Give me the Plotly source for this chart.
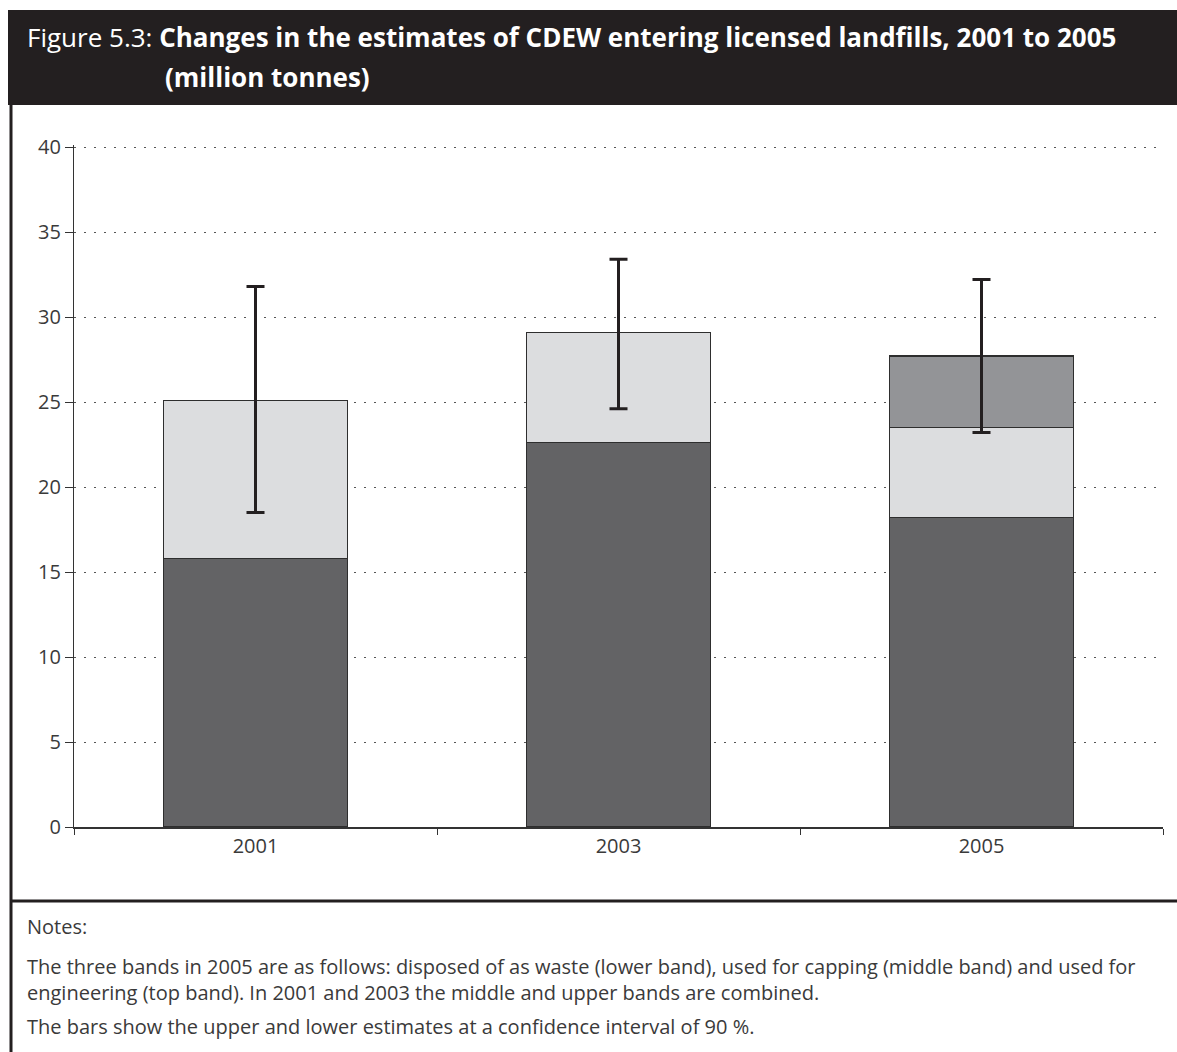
import plotly.graph_objects as go

W, H = 1177, 1052

years = ["2001", "2003", "2005"]
lower_band = [15.8, 22.6, 18.2]     # disposed of as waste
middle_band = [9.3, 6.5, 5.3]       # capping (combined with engineering in 2001/2003)
upper_band = [None, None, 4.2]      # used for engineering
upper_estimate = [31.8, 33.4, 32.2]
lower_estimate = [18.5, 24.6, 23.2]
y_ticks = [0, 5, 10, 15, 20, 25, 30, 35, 40]

totals = [a + b + (c or 0) for a, b, c in zip(lower_band, middle_band, upper_band)]
err_plus = [u - t for u, t in zip(upper_estimate, totals)]
err_minus = [t - l for t, l in zip(totals, lower_estimate)]

FONT = "Open Sans"
DARK = "#231f20"
TXT = "#3a3a3a"

def px(x):
    return x / W

def py(y):
    return 1 - y / H

fig = go.Figure()
fig.add_trace(go.Bar(x=years, y=lower_band, marker=dict(color="#636365", line=dict(color="#2e2e2e", width=1.3)),
                     name="Disposed of as waste"))
fig.add_trace(go.Bar(x=years, y=middle_band, marker=dict(color="#dcdddf", line=dict(color="#2e2e2e", width=1.3)),
                     name="Used for capping"))
fig.add_trace(go.Bar(x=years, y=upper_band, marker=dict(color="#939497", line=dict(color="#2e2e2e", width=1.3)),
                     name="Used for engineering"))
fig.add_trace(go.Scatter(x=years, y=totals, mode="markers", marker=dict(size=1, opacity=0),
                         error_y=dict(type="data", symmetric=False, array=err_plus, arrayminus=err_minus,
                                      color=DARK, thickness=3, width=9),
                         showlegend=False, hoverinfo="skip"))

fig.update_layout(
    width=W, height=H,
    margin=dict(l=0, r=0, t=0, b=0, autoexpand=False),
    paper_bgcolor="white", plot_bgcolor="white",
    barmode="stack", bargap=0.493,
    showlegend=False,
    font=dict(family=FONT, color=TXT, size=19),
)
fig.update_xaxes(
    domain=[px(74), px(1163)],
    showline=True, linecolor="#333333", linewidth=1.5,
    ticks="outside", tickson="boundaries", ticklen=6, tickcolor="#333333", tickwidth=1.2,
    showgrid=False, tickfont=dict(size=20, color=TXT),
)
# 17 px per unit: 40 at y=147, 0 at y=827; domain extended 2px so the 40 gridline is drawn
fig.update_yaxes(
    domain=[py(827), py(145)], range=[0, 40.118],
    tickvals=y_ticks,
    showline=True, linecolor="#333333", linewidth=1.3,
    ticks="outside", ticklen=8, tickcolor="#333333", tickwidth=1.2,
    showgrid=True, gridcolor="#555555", gridwidth=1, griddash="2px,8px",
    zeroline=False, tickfont=dict(size=20, color=TXT),
)

shapes = [
    dict(type="rect", xref="paper", yref="paper", x0=px(8), x1=1, y0=py(105), y1=py(10),
         fillcolor=DARK, line=dict(width=0), layer="below"),
    dict(type="line", xref="paper", yref="paper", x0=px(11), x1=px(11), y0=py(105), y1=0,
         line=dict(color=DARK, width=3)),
    dict(type="line", xref="paper", yref="paper", x0=px(10), x1=1, y0=py(901), y1=py(901),
         line=dict(color=DARK, width=3)),
]
fig.update_layout(shapes=shapes)

NOTE = 20
ann = [
    dict(text="Figure 5.3: <b>Changes in the estimates of CDEW entering licensed landfills, 2001 to 2005</b>",
         x=px(25), y=py(37), xanchor="left", yanchor="middle", font=dict(size=26, color="white")),
    dict(text="<b>(million tonnes)</b>",
         x=px(163), y=py(77), xanchor="left", yanchor="middle", font=dict(size=26, color="white")),
    dict(text="Notes:", x=px(25), y=py(926), xanchor="left", yanchor="middle", font=dict(size=NOTE, color=TXT)),
    dict(text="The three bands in 2005 are as follows: disposed of as waste (lower band), used for capping (middle band) and used for"
              "<br>engineering (top band). In 2001 and 2003 the middle and upper bands are combined.",
         x=px(25), y=py(979), xanchor="left", yanchor="middle", align="left", font=dict(size=NOTE, color=TXT)),
    dict(text="The bars show the upper and lower estimates at a confidence interval of 90 %.",
         x=px(25), y=py(1026), xanchor="left", yanchor="middle", font=dict(size=NOTE, color=TXT)),
]
for a in ann:
    a.update(xref="paper", yref="paper", showarrow=False)
fig.update_layout(annotations=ann)

fig.write_html("out.html")
